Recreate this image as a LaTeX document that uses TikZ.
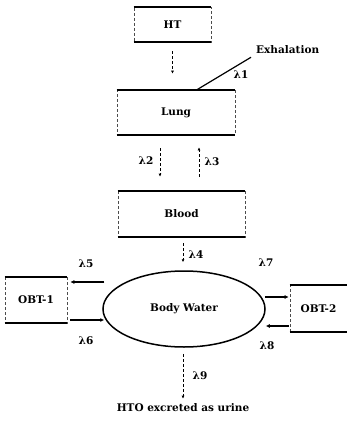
\documentclass[tikz,border=0pt]{standalone}
\usepackage{fontspec}
\setmainfont{DejaVu Serif}
\usetikzlibrary{shapes.geometric,arrows.meta}
\begin{document}
\begin{tikzpicture}[x=1pt,y=-1pt,
  every node/.style={font=\fontsize{10.5}{12}\selectfont\bfseries, inner sep=1pt},
  box/.style={draw=black!70, densely dashed, line width=0.6pt, rectangle},
  edge/.style={line width=1.8pt},
  varrow/.style={densely dashed, line width=0.8pt, -{Latex[length=3pt,width=3pt]}},
  harrow/.style={line width=1.5pt, -{Latex[length=4pt,width=4pt]}},
  lab/.style={inner sep=0pt}]
\useasboundingbox (0,0) rectangle (347,425);
% boxes
\node[box, minimum width=77pt, minimum height=35pt] (ht) at (172.5,24.5) {HT};
\node[box, minimum width=118pt, minimum height=45pt] (lung) at (176,112.5) {Lung};
\node[box, minimum width=127pt, minimum height=46pt] (blood) at (181.5,214) {Blood};
\node[box, minimum width=62pt, minimum height=46pt] (obt1) at (36,300) {OBT-1};
\node[box, minimum width=57pt, minimum height=47pt] (obt2) at (318.5,308.5) {OBT-2};
\node[draw, ellipse, line width=1.5pt, minimum width=162pt, minimum height=76pt] (ell) at (184,309) {Body Water};
% thick horizontal edges
\foreach \n in {ht,lung,blood,obt1,obt2}{
  \draw[edge] (\n.north west) -- (\n.north east);
  \draw[edge] (\n.south west) -- (\n.south east);
}
% text nodes
\node[anchor=west] (exhal) at (255,50) {Exhalation};
\node (urine) at (183,408) {HTO excreted as urine};
% coordinates for vertical arrows
\coordinate (c1) at (172.5,0);
\coordinate (c2) at (160,0);
\coordinate (c3) at (199,0);
% connectors
\draw[varrow, shorten <=9pt, shorten >=16pt] (ht.south -| c1) -- (lung.north -| c1);
\draw[line width=1.2pt] ([xshift=21pt]lung.north) -- ([xshift=-4pt,yshift=-2pt]exhal.south west);
\draw[varrow, shorten <=13pt, shorten >=14pt] (lung.south -| c2) -- (blood.north -| c2);
\draw[varrow, shorten <=14pt, shorten >=12pt] (blood.north -| c3) -- (lung.south -| c3);
\draw[varrow] ([xshift=1.5pt,yshift=-6pt]blood.south) -- ([xshift=-1pt,yshift=8pt]ell.north);
\draw[harrow] ([xshift=2pt,yshift=27pt]ell.west) -- ([xshift=3pt,yshift=18pt]obt1.east);
\draw[harrow] ([xshift=3pt,yshift=-20pt]obt1.east) -- ([xshift=2pt,yshift=-11pt]ell.west);
\draw[harrow] ([xshift=-1pt,yshift=12pt]ell.east) -- ([xshift=-1pt,yshift=11.5pt]obt2.west);
\draw[harrow] ([xshift=-1pt,yshift=-17.5pt]obt2.west) -- ([yshift=-17pt]ell.east);
\draw[varrow] ([xshift=-1pt,yshift=-6pt]ell.south) -- ([yshift=4pt]urine.north);
% lambda labels
\node[lab] (l1) at (241,75) {λ1};
\node[lab] (l2) at (146,161) {λ2};
\node[lab] (l3) at (212,162) {λ3};
\node[lab] (l4) at (196,255) {λ4};
\node[lab] (l5) at (86,264) {λ5};
\node[lab] (l6) at (86,341) {λ6};
\node[lab] (l7) at (266,263) {λ7};
\node[lab] (l8) at (267,346) {λ8};
\node[lab] (l9) at (200,376) {λ9};
\end{tikzpicture}
\end{document}
